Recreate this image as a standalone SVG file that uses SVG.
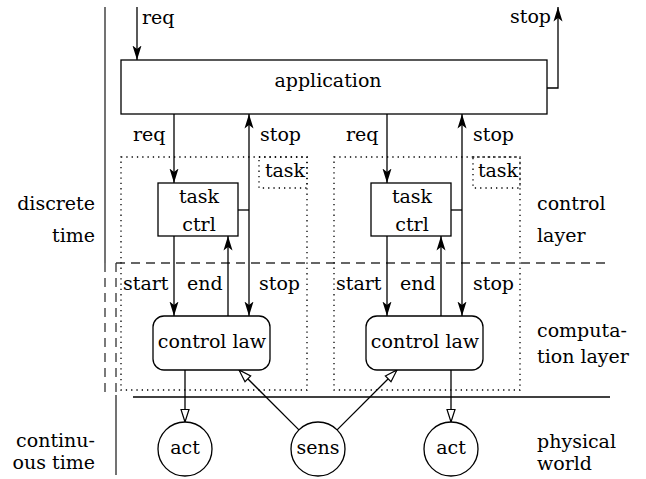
<svg xmlns="http://www.w3.org/2000/svg" width="646" height="479" viewBox="0 0 646 479" font-family="DejaVu Serif, serif">
<style>
text{font-size:19px;fill:#000}
.m{text-anchor:middle}
.e{text-anchor:end}
.box{fill:#fff;stroke:#000;stroke-width:1.3}
.ln{fill:none;stroke:#000;stroke-width:1.3}
.dot{fill:none;stroke:#000;stroke-width:1.3;stroke-dasharray:1.3 4}
.dash{fill:none;stroke:#333;stroke-width:1.3;stroke-dasharray:9 6}
.ax{fill:none;stroke:#444;stroke-width:1.5}
</style>
<defs>
<marker id="ah" markerUnits="userSpaceOnUse" markerWidth="15" markerHeight="10" refX="14.5" refY="5" orient="auto-start-reverse" viewBox="0 0 15 10">
<path d="M0,0.5 L14.5,5 L0,9.5 L3.5,5 z" fill="#000"/>
</marker>
<marker id="oh" markerUnits="userSpaceOnUse" markerWidth="15" markerHeight="10" refX="13.5" refY="5" orient="auto" viewBox="0 0 15 10">
<path d="M1,1 L13.5,5 L1,9 z" fill="#fff" stroke="#000" stroke-width="1.2"/>
</marker>
</defs>

<g id="axes">
<line class="ax" x1="105" y1="7" x2="105" y2="263"/>
<line class="dash" x1="105" y1="263" x2="105" y2="395"/>
<line class="dash" x1="116" y1="263" x2="116" y2="395"/>
<line class="ax" x1="116" y1="395" x2="116" y2="475"/>
<line class="dash" x1="116" y1="263" x2="610" y2="263"/>
<line class="ln" x1="133" y1="397" x2="610" y2="397"/>
</g>

<g id="task-area-1">
<rect class="dot" x="121" y="157" width="186" height="233"/>
<rect class="dot" x="259" y="157" width="48" height="31"/>
<text x="285" y="177" class="m">task</text>
</g>
<g id="task-area-2">
<rect class="dot" x="334" y="157" width="186" height="233"/>
<rect class="dot" x="473" y="157" width="47" height="31"/>
<text x="498" y="177" class="m">task</text>
</g>

<g id="connectors">
<line class="ln" marker-end="url(#ah)" x1="137" y1="7" x2="137" y2="60"/>
<polyline class="ln" marker-end="url(#ah)" points="547,88 558,88 558,7"/>
<line class="ln" marker-end="url(#ah)" x1="174" y1="114" x2="174" y2="183"/>
<line class="ln" marker-start="url(#ah)" marker-end="url(#ah)" x1="249" y1="114" x2="249" y2="316"/>
<line class="ln" x1="238" y1="210" x2="249" y2="210"/>
<line class="ln" marker-end="url(#ah)" x1="174" y1="236" x2="174" y2="316"/>
<line class="ln" marker-end="url(#ah)" x1="228" y1="316" x2="228" y2="236"/>
<line class="ln" marker-end="url(#ah)" x1="387" y1="114" x2="387" y2="183"/>
<line class="ln" marker-start="url(#ah)" marker-end="url(#ah)" x1="462" y1="114" x2="462" y2="316"/>
<line class="ln" x1="451" y1="210" x2="462" y2="210"/>
<line class="ln" marker-end="url(#ah)" x1="387" y1="236" x2="387" y2="316"/>
<line class="ln" marker-end="url(#ah)" x1="441" y1="316" x2="441" y2="236"/>
<line class="ln" marker-end="url(#oh)" x1="185" y1="370" x2="185" y2="422"/>
<line class="ln" marker-end="url(#oh)" x1="451" y1="370" x2="451" y2="422"/>
<line class="ln" marker-end="url(#oh)" x1="298.9" y1="429.9" x2="239" y2="370"/>
<line class="ln" marker-end="url(#oh)" x1="337.1" y1="429.9" x2="397" y2="370"/>
</g>

<g id="application">
<rect class="box" x="121" y="60" width="426" height="54"/>
<text x="328" y="87" class="m">application</text>
</g>
<g id="task-ctrl-1">
<rect class="box" x="158" y="183" width="80" height="53"/>
<text x="199" y="203" class="m">task</text>
<text x="199" y="231" class="m">ctrl</text>
</g>
<g id="task-ctrl-2">
<rect class="box" x="371" y="183" width="80" height="53"/>
<text x="412" y="203" class="m">task</text>
<text x="412" y="231" class="m">ctrl</text>
</g>
<g id="control-law-1">
<rect class="box" x="153" y="316" width="117" height="54" rx="11"/>
<text x="212" y="348" class="m">control law</text>
</g>
<g id="control-law-2">
<rect class="box" x="366" y="316" width="117" height="54" rx="11"/>
<text x="425" y="348" class="m">control law</text>
</g>
<g id="act-1">
<circle class="box" cx="185" cy="449" r="27"/>
<text x="185" y="454" class="m">act</text>
</g>
<g id="sens">
<circle class="box" cx="318" cy="449" r="27"/>
<text x="318" y="454" class="m">sens</text>
</g>
<g id="act-2">
<circle class="box" cx="451" cy="449" r="27"/>
<text x="451" y="454" class="m">act</text>
</g>

<g id="labels">
<text x="142" y="24">req</text>
<text x="551" y="23" class="e">stop</text>
<text x="133" y="141">req</text>
<text x="260" y="141">stop</text>
<text x="346" y="141">req</text>
<text x="473" y="141">stop</text>
<text x="123" y="290">start</text>
<text x="187" y="290">end</text>
<text x="259" y="290">stop</text>
<text x="336" y="290">start</text>
<text x="400" y="290">end</text>
<text x="473" y="290">stop</text>
<text x="95" y="210" class="e">discrete</text>
<text x="95" y="242" class="e">time</text>
<text x="95" y="447" class="e">continu-</text>
<text x="95" y="469" class="e">ous time</text>
<text x="537" y="210">control</text>
<text x="537" y="242">layer</text>
<text x="537" y="337">computa-</text>
<text x="537" y="363">tion layer</text>
<text x="537" y="448">physical</text>
<text x="537" y="470">world</text>
</g>
</svg>
